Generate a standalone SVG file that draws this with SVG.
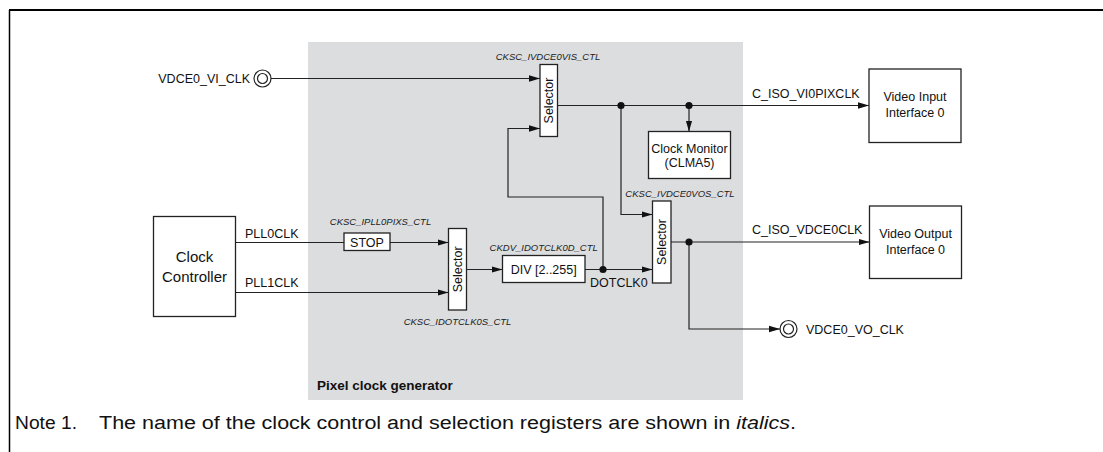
<svg xmlns="http://www.w3.org/2000/svg" width="1103" height="452" viewBox="0 0 1103 452">
<style>
text{font-family:"Liberation Sans",Arial,sans-serif;fill:#111}
.lbl{font-size:12.5px}
.reg{font-size:9.5px;font-style:italic;fill:#222}
.box{fill:#fff;stroke:#222;stroke-width:1.3}
.ln{fill:none;stroke:#222;stroke-width:1.2}
.dot{fill:#111}
.mid{text-anchor:middle}
.note{font-size:18px}
</style>
<defs>
<marker id="ah" markerUnits="userSpaceOnUse" markerWidth="12" markerHeight="8" refX="11" refY="4" orient="auto">
<path d="M0,0.8 L11,4 L0,7.2 Z" fill="#111"/>
</marker>
</defs>
<g id="frame">
<line x1="9" y1="10" x2="1103" y2="10" stroke="#000" stroke-width="2"/>
<line x1="9.5" y1="10" x2="9.5" y2="452" stroke="#000" stroke-width="1.5"/>
</g>
<g id="pixel-clock-generator">
<rect x="308" y="42" width="435" height="358" fill="#dcdddf"/>
<text x="317" y="390" style="font-size:13.5px;font-weight:bold">Pixel clock generator</text>
</g>
<g id="connectors">
<line class="ln" x1="271" y1="78.5" x2="540" y2="78.5" marker-end="url(#ah)"/>
<line class="ln" x1="557.5" y1="105.5" x2="869" y2="105.5" marker-end="url(#ah)"/>
<line class="ln" x1="689" y1="105.5" x2="689" y2="131.5" marker-end="url(#ah)"/>
<polyline class="ln" points="621,105.5 621,214.5 652.5,214.5" marker-end="url(#ah)"/>
<polyline class="ln" points="603,269.5 603,197 508,197 508,128.5 540,128.5" marker-end="url(#ah)"/>
<line class="ln" x1="235.5" y1="242.5" x2="344" y2="242.5"/>
<line class="ln" x1="390" y1="242.5" x2="448.5" y2="242.5" marker-end="url(#ah)"/>
<line class="ln" x1="235.5" y1="292.5" x2="448.5" y2="292.5" marker-end="url(#ah)"/>
<line class="ln" x1="466.5" y1="269.5" x2="502.5" y2="269.5" marker-end="url(#ah)"/>
<line class="ln" x1="585" y1="269.5" x2="652.5" y2="269.5" marker-end="url(#ah)"/>
<line class="ln" x1="671" y1="242" x2="869.5" y2="242" marker-end="url(#ah)"/>
<polyline class="ln" points="689,242 689,329 780,329" marker-end="url(#ah)"/>
<circle class="dot" cx="621" cy="105.5" r="3.6"/>
<circle class="dot" cx="689" cy="105.5" r="3.6"/>
<circle class="dot" cx="603" cy="269.5" r="3.6"/>
<circle class="dot" cx="689" cy="242" r="3.6"/>
<text class="lbl" x="752" y="98">C_ISO_VI0PIXCLK</text>
<text class="lbl" x="752" y="234">C_ISO_VDCE0CLK</text>
<text class="lbl" x="245" y="237.5">PLL0CLK</text>
<text class="lbl" x="245" y="287">PLL1CLK</text>
<text class="lbl" x="590" y="287">DOTCLK0</text>
</g>
<g id="vi-clk-pin">
<circle cx="262.5" cy="78.5" r="8.5" fill="#fff" stroke="#222" stroke-width="1.2"/>
<circle cx="262.5" cy="78.5" r="5" fill="none" stroke="#222" stroke-width="1.2"/>
<text class="lbl" x="250" y="83" text-anchor="end">VDCE0_VI_CLK</text>
</g>
<g id="vo-clk-pin">
<circle cx="788.5" cy="329" r="8.5" fill="#fff" stroke="#222" stroke-width="1.2"/>
<circle cx="788.5" cy="329" r="5" fill="none" stroke="#222" stroke-width="1.2"/>
<text class="lbl" x="806" y="333.5">VDCE0_VO_CLK</text>
</g>
<g id="selector-vi">
<rect class="box" x="540" y="64.5" width="17.5" height="72"/>
<text class="lbl mid" transform="translate(553.2,100.5) rotate(-90)">Selector</text>
<text class="reg mid" x="548" y="60">CKSC_IVDCE0VIS_CTL</text>
</g>
<g id="clock-monitor">
<rect class="box" x="648.5" y="131.5" width="82" height="47"/>
<text class="lbl mid" x="689.5" y="152.5">Clock Monitor</text>
<text class="lbl mid" x="689.5" y="166.5">(CLMA5)</text>
</g>
<g id="video-input">
<rect class="box" x="869" y="69" width="92" height="73.5"/>
<text class="lbl mid" x="915" y="101">Video Input</text>
<text class="lbl mid" x="915" y="117">Interface 0</text>
</g>
<g id="selector-vo">
<rect class="box" x="652.5" y="201" width="18.5" height="82"/>
<text class="lbl mid" transform="translate(666.2,242) rotate(-90)">Selector</text>
<text class="reg mid" x="680" y="197">CKSC_IVDCE0VOS_CTL</text>
</g>
<g id="video-output">
<rect class="box" x="869.5" y="206" width="92" height="72.5"/>
<text class="lbl mid" x="915.5" y="237.5">Video Output</text>
<text class="lbl mid" x="915.5" y="253.5">Interface 0</text>
</g>
<g id="clock-controller">
<rect class="box" x="153.5" y="216.5" width="82" height="100"/>
<text class="mid" x="194.5" y="261.5" style="font-size:15px">Clock</text>
<text class="mid" x="194.5" y="282" style="font-size:15px">Controller</text>
</g>
<g id="stop">
<rect class="box" x="344" y="233" width="46" height="17.5"/>
<text class="lbl mid" x="367" y="246.5">STOP</text>
<text class="reg mid" x="380.5" y="224.5">CKSC_IPLL0PIXS_CTL</text>
</g>
<g id="selector-dotclk">
<rect class="box" x="448.5" y="228.5" width="18" height="81.5"/>
<text class="lbl mid" transform="translate(462,269.3) rotate(-90)">Selector</text>
<text class="reg mid" x="457.5" y="324.5">CKSC_IDOTCLK0S_CTL</text>
</g>
<g id="divider">
<rect class="box" x="502.5" y="255.5" width="82.5" height="27"/>
<text class="lbl mid" x="543.7" y="273.5">DIV [2..255]</text>
<text class="reg mid" x="543.7" y="251">CKDV_IDOTCLK0D_CTL</text>
</g>
<g id="note">
<text class="note" x="15" y="429" textLength="62" lengthAdjust="spacingAndGlyphs">Note 1.</text>
<text class="note" x="99" y="429" textLength="697" lengthAdjust="spacingAndGlyphs">The name of the clock control and selection registers are shown in <tspan font-style="italic">italics</tspan>.</text>
</g>
</svg>
